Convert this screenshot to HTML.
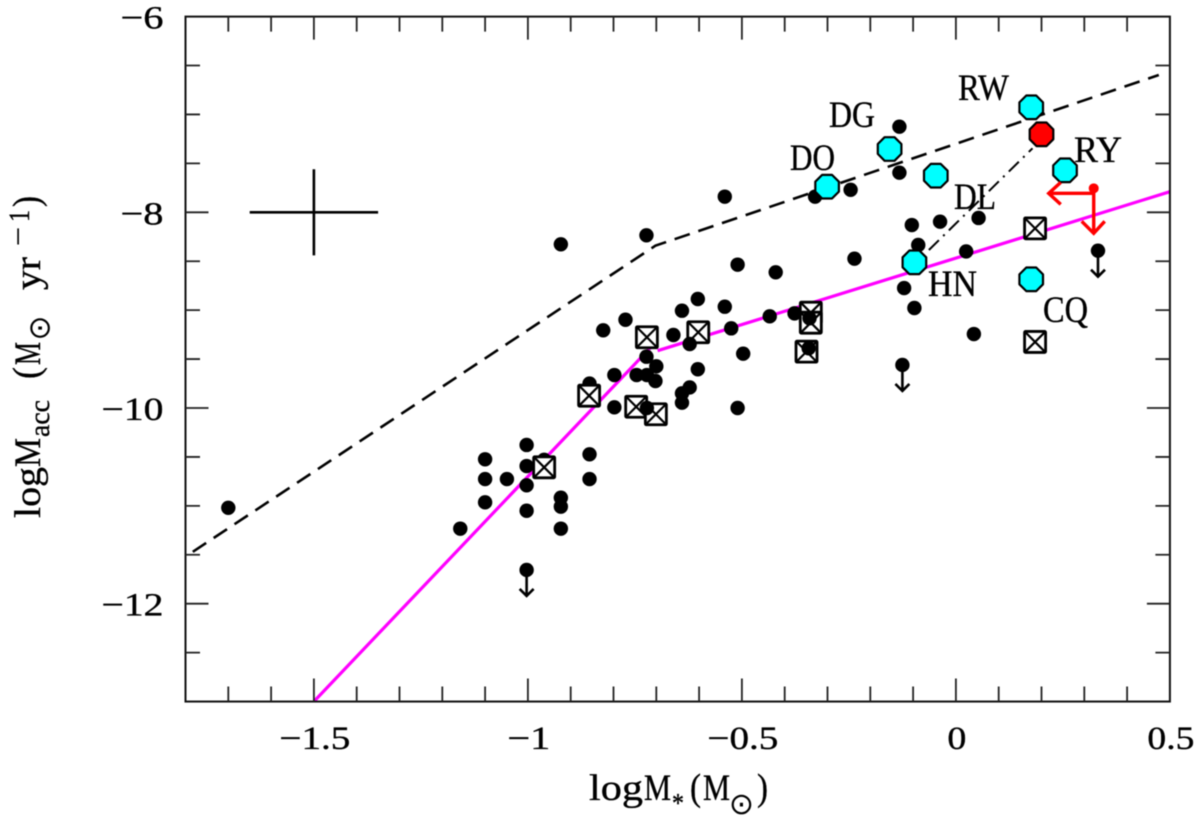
<!DOCTYPE html>
<html>
<head>
<meta charset="utf-8">
<style>
html,body{margin:0;padding:0;background:#fff;}
svg{display:block;filter:blur(0.4px);}
text{font-family:"Liberation Serif","DejaVu Serif",serif;fill:#000;stroke:#000;stroke-width:0.35px;}
</style>
</head>
<body>
<svg id="chart" xmlns="http://www.w3.org/2000/svg" width="1200" height="818" viewBox="0 0 1200 818">
<rect width="1200" height="818" fill="#fff"/>
<g id="plot"></g>
<g font-size="37">
<text x="958" y="100" textLength="51" lengthAdjust="spacingAndGlyphs">RW</text>
<text x="829" y="127" textLength="46" lengthAdjust="spacingAndGlyphs">DG</text>
<text x="790" y="170" textLength="45" lengthAdjust="spacingAndGlyphs">DO</text>
<text x="954" y="209" textLength="42" lengthAdjust="spacingAndGlyphs">DL</text>
<text x="1074" y="162" textLength="48" lengthAdjust="spacingAndGlyphs">RY</text>
<text x="928" y="296" textLength="49" lengthAdjust="spacingAndGlyphs">HN</text>
<text x="1043" y="322" textLength="45" lengthAdjust="spacingAndGlyphs">CQ</text>
</g>
<g>
<text x="589" y="800" font-size="37" textLength="54" lengthAdjust="spacingAndGlyphs">log</text>
<text x="644" y="800" font-size="37" textLength="27" lengthAdjust="spacingAndGlyphs">M</text>
<text x="672" y="812" font-size="27" textLength="12" lengthAdjust="spacingAndGlyphs">*</text>
<text x="690" y="800" font-size="38" textLength="11" lengthAdjust="spacingAndGlyphs">(</text>
<text x="703" y="800" font-size="37" textLength="27" lengthAdjust="spacingAndGlyphs">M</text>
<text x="741.5" y="814" font-size="30" text-anchor="middle" style="font-family:'DejaVu Sans',sans-serif;stroke-width:0">⊙</text>
<text x="757" y="800" font-size="38" textLength="11" lengthAdjust="spacingAndGlyphs">)</text>
</g>
<g>
<text transform="translate(40,518) rotate(-90)" font-size="37" textLength="51" lengthAdjust="spacingAndGlyphs">log</text>
<text transform="translate(40,467) rotate(-90)" font-size="37" textLength="29" lengthAdjust="spacingAndGlyphs">M</text>
<text transform="translate(49,437) rotate(-90)" font-size="28" textLength="37" lengthAdjust="spacingAndGlyphs">acc</text>
<text transform="translate(39,379) rotate(-90)" font-size="38" textLength="12" lengthAdjust="spacingAndGlyphs">(</text>
<text transform="translate(40,365) rotate(-90)" font-size="37" textLength="23" lengthAdjust="spacingAndGlyphs">M</text>
<text transform="translate(49.5,328) rotate(-90)" font-size="30" text-anchor="middle" style="font-family:'DejaVu Sans',sans-serif;stroke-width:0">⊙</text>
<text transform="translate(40,290) rotate(-90)" font-size="37" textLength="33" lengthAdjust="spacingAndGlyphs">yr</text>
<text transform="translate(27,246) rotate(-90)" font-size="27" textLength="19" lengthAdjust="spacingAndGlyphs">−</text>
<text transform="translate(29,222) rotate(-90)" font-size="30" textLength="12" lengthAdjust="spacingAndGlyphs">1</text>
<text transform="translate(39,207) rotate(-90)" font-size="38" textLength="11" lengthAdjust="spacingAndGlyphs">)</text>
</g>
</svg>
<script>
const xTickValues = [-1.5, -1, -0.5, 0, 0.5];
const xTickLabels = ["−1.5", "−1", "−0.5", "0", "0.5"];
const yTickValues = [-6, -8, -10, -12];
const yTickLabels = ["−6", "−8", "−10", "−12"];
const backDotsX = [-0.132,-0.132,-0.246,-0.329,-0.54,-0.723,-0.103,-0.037,0.053,-0.088,0.024,-0.237,-0.51,-0.421,-0.121,-0.097,-0.603,-0.54,-0.64,-0.772,-0.824,-0.66,-0.525,-0.435,-0.377,-0.497,0.042,-0.603,-0.723,-0.70,-0.798,-0.746,-0.722,-0.702,-0.622,-0.64,-0.64,-0.51,-0.798,-0.923,-0.856,-1.003,-1.10,-0.962,-0.856,-1.003,-1.10,-1.049,-0.856,-1.003,-1.10,-0.923,-0.923,-1.003,-1.70,-1.158,-0.923];
const backDotsY = [-7.125,-7.595,-7.77,-7.84,-7.84,-8.235,-8.13,-8.096,-8.058,-8.334,-8.40,-8.474,-8.535,-8.613,-8.774,-8.978,-8.886,-8.965,-9.006,-9.098,-9.206,-9.254,-9.186,-9.063,-9.033,-9.445,-9.244,-9.604,-9.476,-9.574,-9.663,-9.663,-9.663,-9.724,-9.79,-9.85,-9.946,-10.0,-9.993,-8.327,-9.75,-10.378,-10.524,-10.53,-10.473,-10.593,-10.726,-10.726,-10.726,-10.79,-10.964,-10.917,-11.008,-11.05,-11.02,-11.233,-11.233];
const squareX = [-0.722,-0.602,-0.857,-0.747,-0.701,-0.962,-0.339,-0.339,-0.349,0.185,0.185];
const squareY = [-9.277,-9.226,-9.874,-9.987,-10.064,-10.606,-9.026,-9.128,-9.424,-8.164,-9.325];
const frontDotsX = [-0.622,-0.342,-0.344,-0.722];
const frontDotsY = [-9.346,-9.083,-9.39,-10.0];
const limitX = [-1.003,-0.125,0.332];
const limitY = [-11.655,-9.56,-8.392];
const cyanX = [0.176,-0.155,-0.301,-0.047,0.255,-0.097,0.176];
const cyanY = [-6.927,-7.353,-7.738,-7.626,-7.571,-8.511,-8.685];
const redX = [0.2];
const redY = [-7.203];
const redLimitX = [0.322];
const redLimitY = [-7.755];
const upperLineX = [-1.783,-0.702,0.474];
const upperLineY = [-11.47,-8.341,-6.597];
const magentaLowX = [-1.5,-0.70];
const magentaLowY = [-13,-9.32];
const magentaHighX = [-0.697,0.499];
const magentaHighY = [-9.414,-7.79];
const dashDotX = [-0.063,0.179];
const dashDotY = [-8.385,-7.346];
const errorCentreX = [-1.5];
const errorCentreY = [-8];
const errorBarX = [0.15];
const errorBarY = [0.44];

const X = v => 955.9 + v * 428;
const Y = v => 212.3 + (-8 - v) * 97.85;
const SVGNS = "http://www.w3.org/2000/svg";
const plot = document.getElementById("plot");
function el(tag, attrs, parent) {
  const n = document.createElementNS(SVGNS, tag);
  for (const k in attrs) n.setAttribute(k, attrs[k]);
  (parent || plot).appendChild(n);
  return n;
}
function linePath(xs, ys) {
  return xs.map((v, i) => (i ? "L" : "M") + X(v).toFixed(1) + " " + Y(ys[i]).toFixed(1)).join(" ");
}
function labelWidth(s) {
  let w = 0;
  for (const c of s) w += c === "−" ? 24 : c === "." ? 9 : 19;
  return w;
}

// series lines
const upper = el("path", {d: linePath(upperLineX, upperLineY), fill: "none", stroke: "#000", "stroke-width": 2.6, "stroke-dasharray": "16 9"});


const magLow = el("path", {d: linePath(magentaLowX, magentaLowY), fill: "none", stroke: "#ff00ff", "stroke-width": 3.2});


const magHigh = el("path", {d: linePath(magentaHighX, magentaHighY), fill: "none", stroke: "#ff00ff", "stroke-width": 3.2});


const dashDot = el("path", {d: linePath(dashDotX, dashDotY), fill: "none", stroke: "#000", "stroke-width": 2, "stroke-dasharray": "14 6 2 6"});



// error cross
const errH = el("line", {x1: X(errorCentreX[0] - errorBarX[0]), x2: X(errorCentreX[0] + errorBarX[0]), y1: Y(errorCentreY[0]), y2: Y(errorCentreY[0]), stroke: "#000", "stroke-width": 2.6});


const errV = el("line", {x1: X(errorCentreX[0]), x2: X(errorCentreX[0]), y1: Y(errorCentreY[0] + errorBarY[0]), y2: Y(errorCentreY[0] - errorBarY[0]), stroke: "#000", "stroke-width": 2.6});



// dots behind squares
backDotsX.forEach((v, i) => {
  const d = el("circle", {cx: X(v), cy: Y(backDotsY[i]), r: 7.2, fill: "#000"});
  
  
});

// crossed squares
squareX.forEach((v, i) => {
  const cx = X(v), cy = Y(squareY[i]), h = 10.5;
  const g = el("g", {});
  
  
  el("rect", {x: cx - h, y: cy - h, width: 2 * h, height: 2 * h, fill: "#fff", stroke: "#000", "stroke-width": 2.8, rx: 1}, g);
  el("path", {d: `M${cx - h} ${cy - h}L${cx + h} ${cy + h}M${cx + h} ${cy - h}L${cx - h} ${cy + h}`, stroke: "#000", "stroke-width": 2.2, fill: "none"}, g);
});

// dots drawn over squares
frontDotsX.forEach((v, i) => {
  const d = el("circle", {cx: X(v), cy: Y(frontDotsY[i]), r: 7.2, fill: "#000"});
  
  
});

// upper limits
limitX.forEach((v, i) => {
  const cx = X(v), cy = Y(limitY[i]);
  const g = el("g", {});
  
  
  el("circle", {cx: cx, cy: cy, r: 7.2, fill: "#000"}, g);
  el("path", {d: `M${cx} ${cy}V${cy + 26}M${cx - 7} ${cy + 19}L${cx} ${cy + 26}L${cx + 7} ${cy + 19}`, fill: "none", stroke: "#000", "stroke-width": 2.6}, g);
});

function octagon(cx, cy, r) {
  const a = r, b = r * 0.42;
  return [[-b,-a],[b,-a],[a,-b],[a,b],[b,a],[-b,a],[-a,b],[-a,-b]].map(p => (cx + p[0]).toFixed(1) + "," + (cy + p[1]).toFixed(1)).join(" ");
}
// cyan stars
cyanX.forEach((v, i) => {
  const o = el("polygon", {points: octagon(X(v), Y(cyanY[i]), 11.8), fill: "#00ffff", stroke: "#000", "stroke-width": 2.2, "stroke-linejoin": "round"});
  
  
});
// red star
redX.forEach((v, i) => {
  const o = el("polygon", {points: octagon(X(v), Y(redY[i]), 11.8), fill: "#ff0000", stroke: "#000", "stroke-width": 2.2, "stroke-linejoin": "round"});
  
  
});
// red limit
redLimitX.forEach((v, i) => {
  const cx = X(v), cy = Y(redLimitY[i]);
  const g = el("g", {});
  
  
  el("circle", {cx: cx, cy: cy, r: 5, fill: "#ff0000"}, g);
  el("path", {d: `M${cx} ${cy}V${cy + 45}M${cx - 12} ${cy + 33}L${cx} ${cy + 45}L${cx + 11} ${cy + 33}M${cx} ${cy + 5}H${cx - 45}M${cx - 33} ${cy - 6}L${cx - 45} ${cy + 5}L${cx - 33} ${cy + 16}`, fill: "none", stroke: "#ff0000", "stroke-width": 3.4}, g);
});

// frame
const frame = el("rect", {x: X(-1.8), y: Y(-6), width: X(0.5) - X(-1.8), height: Y(-13) - Y(-6), fill: "none", stroke: "#111", "stroke-width": 2});



// ticks
for (let k = -17; k <= 4; k++) {
  const v = k / 10, major = k % 5 === 0, len = major ? 23 : 15;
  const t = el("path", {d: `M${X(v)} ${Y(-6)}v${len}M${X(v)} ${Y(-13)}v${-len}`, stroke: "#222", "stroke-width": 1.8, fill: "none"});
  
  
}
for (let k = 13; k <= 25; k++) {
  const v = -k / 2, major = k % 4 === 0, len = major ? 23 : 14.5;
  const t = el("path", {d: `M${X(-1.8)} ${Y(v)}h${len}M${X(0.5)} ${Y(v)}h${-len}`, stroke: "#222", "stroke-width": 1.8, fill: "none"});
  
  
}

// tick labels
xTickValues.forEach((v, i) => {
  const t = el("text", {x: X(v) + 1, y: 749, "font-size": 33, "text-anchor": "middle", textLength: labelWidth(xTickLabels[i]), lengthAdjust: "spacingAndGlyphs"});
  t.textContent = xTickLabels[i];
  
  
});
yTickValues.forEach((v, i) => {
  const t = el("text", {x: 163.5, y: Y(v) + 12, "font-size": 33, "text-anchor": "end", textLength: labelWidth(yTickLabels[i]), lengthAdjust: "spacingAndGlyphs"});
  t.textContent = yTickLabels[i];
  
  
});
</script>
</body>
</html>
